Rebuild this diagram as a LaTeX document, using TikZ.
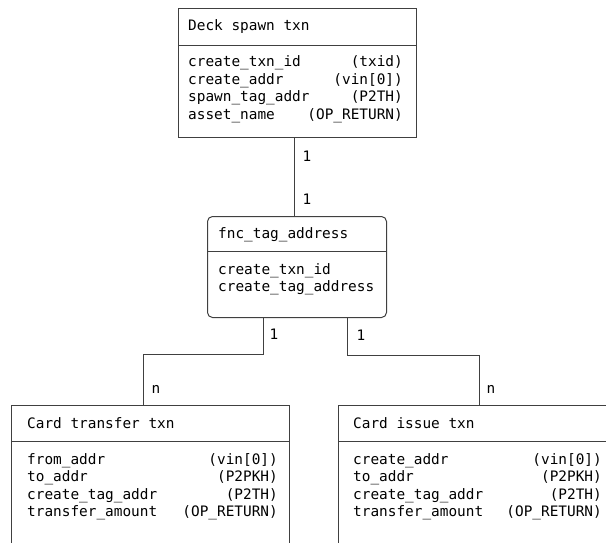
\documentclass[tikz,border=0pt]{standalone}
\usepackage{fontspec}
\setmainfont{DejaVu Sans Mono}
\usetikzlibrary{calc}
\tikzset{
  box/.style={draw=black!75, line width=1pt, anchor=north west, inner sep=0pt},
  rbox/.style={box, rounded corners=5pt},
  divider/.style={draw=black!75, line width=1pt},
  conn/.style={draw=black!75, line width=1pt},
  lt/.style={anchor=base west, inner sep=0pt, font=\fontsize{14.4}{17}\selectfont},
  rt/.style={anchor=base east, inner sep=0pt, font=\fontsize{14.4}{17}\selectfont},
  lbl/.style={inner sep=0pt, font=\fontsize{14.4}{17}\selectfont},
}
\begin{document}
\begin{tikzpicture}[x=1pt, y=-1pt]
\useasboundingbox (0,0) rectangle (606,543);
% boxes
\node[box, minimum width=238pt, minimum height=129pt] (deck) at (178,8) {};
\node[rbox, minimum width=179pt, minimum height=101pt] (fnc) at (207,216) {};
\node[box, minimum width=278pt, minimum height=160pt] (ct) at (11,405) {};
\node[box, minimum width=280pt, minimum height=160pt] (ci) at (338,405) {};
% dividers
\draw[divider] ([yshift=-38pt]deck.north west) -- ([yshift=-38pt]deck.north east);
\draw[divider] ([yshift=-35pt]fnc.north west) -- ([yshift=-35pt]fnc.north east);
\draw[divider] ([yshift=-36pt]ct.north west) -- ([yshift=-36pt]ct.north east);
\draw[divider] ([yshift=-36pt]ci.north west) -- ([yshift=-36pt]ci.north east);
% texts: deck
\node[lt] (d0) at (188,31) {Deck spawn txn};
\node[lt] (d1) at (188,67) {create\_txn\_id};
\node[lt] (d2) at (188,84.5) {create\_addr};
\node[lt] (d3) at (188,102) {spawn\_tag\_addr};
\node[lt] (d4) at (188,119.5) {asset\_name};
\node[rt] (d1r) at (403,67) {(txid)};
\node[rt] (d2r) at (403,84.5) {(vin[0])};
\node[rt] (d3r) at (403,102) {(P2TH)};
\node[rt] (d4r) at (403,119.5) {(OP\_RETURN)};
% fnc
\node[lt] (f0) at (218,238) {fnc\_tag\_address};
\node[lt] (f1) at (218,274) {create\_txn\_id};
\node[lt] (f2) at (218,291.5) {create\_tag\_address};
% card transfer
\node[lt] (t0) at (27,428) {Card transfer txn};
\node[lt] (t1) at (27,464) {from\_addr};
\node[lt] (t2) at (27,481.5) {to\_addr};
\node[lt] (t3) at (27,499) {create\_tag\_addr};
\node[lt] (t4) at (27,516.5) {transfer\_amount};
\node[rt] (t1r) at (278,464) {(vin[0])};
\node[rt] (t2r) at (278,481.5) {(P2PKH)};
\node[rt] (t3r) at (278,499) {(P2TH)};
\node[rt] (t4r) at (278,516.5) {(OP\_RETURN)};
% card issue
\node[lt] (i0) at (353,428) {Card issue txn};
\node[lt] (i1) at (353,464) {create\_addr};
\node[lt] (i2) at (353,481.5) {to\_addr};
\node[lt] (i3) at (353,499) {create\_tag\_addr};
\node[lt] (i4) at (353,516.5) {transfer\_amount};
\node[rt] (i1r) at (602,464) {(vin[0])};
\node[rt] (i2r) at (602,481.5) {(P2PKH)};
\node[rt] (i3r) at (602,499) {(P2TH)};
\node[rt] (i4r) at (602,516.5) {(OP\_RETURN)};
% connector guides
\coordinate (xa) at (294,0);
\coordinate (xl1) at (263,0);
\coordinate (xl2) at (143,0);
\coordinate (xr1) at (347,0);
\coordinate (xr2) at (479,0);
\coordinate (yl) at (0,354);
\coordinate (yr) at (0,355);
\draw[conn] (deck.south -| xa) -- (fnc.north -| xa);
\draw[conn] (fnc.south -| xl1) -- (xl1 |- yl) -- (xl2 |- yl) -- (ct.north -| xl2);
\draw[conn] (fnc.south -| xr1) -- (xr1 |- yr) -- (xr2 |- yr) -- (ci.north -| xr2);
% labels
\node[lbl] (la) at (307,156) {1};
\node[lbl] (lb) at (307,199) {1};
\node[lbl] (lc) at (274,334) {1};
\node[lbl] (ld) at (156,389) {n};
\node[lbl] (le) at (361,335) {1};
\node[lbl] (lf) at (491,389) {n};
\end{tikzpicture}
\end{document}
